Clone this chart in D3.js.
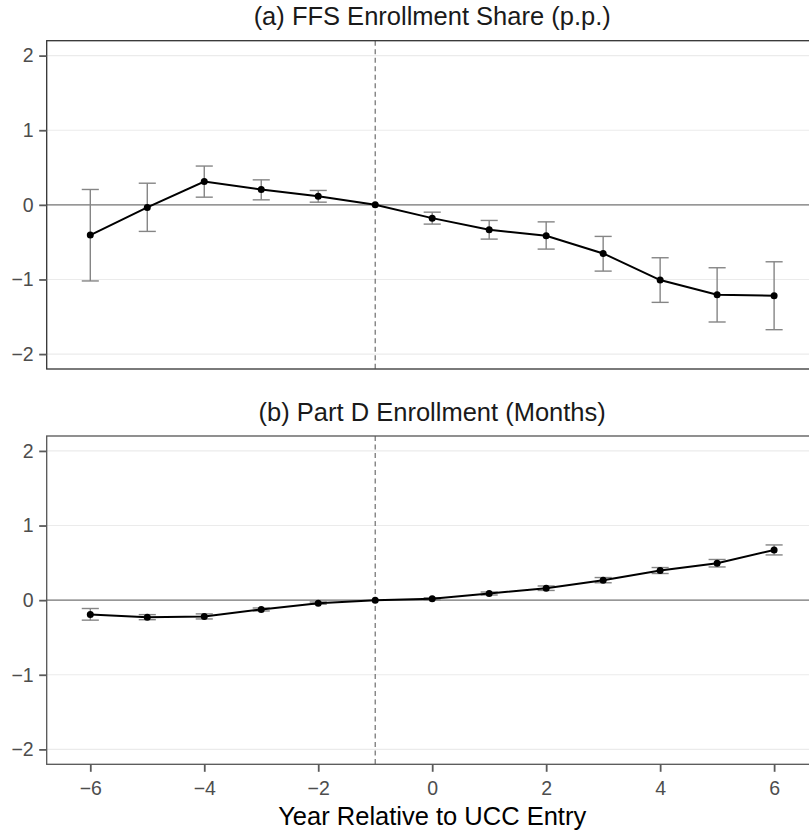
<!DOCTYPE html>
<html>
<head>
<meta charset="utf-8">
<script src="https://cdn.jsdelivr.net/npm/d3@7"></script>
<style>
  body { margin: 0; background: #fff; }
  svg { display: block; font-family: "Liberation Sans", Arial, sans-serif; }
</style>
</head>
<body>
<div id="chart"></div>
<script>
// event-study estimates
const years = [-6, -5, -4, -3, -2, -1, 0, 1, 2, 3, 4, 5, 6];

const ffsEst   = [-0.405, -0.035, 0.313, 0.206, 0.116, 0, -0.178, -0.335, -0.415, -0.651, -1.008, -1.205, -1.218];
const ffsLow   = [-1.02, -0.356, 0.103, 0.067, 0.036, 0, -0.258, -0.459, -0.593, -0.888, -1.307, -1.570, -1.673];
const ffsHigh  = [0.206, 0.29, 0.52, 0.335, 0.193, 0, -0.098, -0.209, -0.228, -0.423, -0.709, -0.843, -0.763];

const partdEst  = [-0.192, -0.228, -0.218, -0.125, -0.040, 0, 0.018, 0.089, 0.160, 0.268, 0.397, 0.495, 0.673];
const partdLow  = [-0.268, -0.262, -0.252, -0.145, -0.055, 0, 0.003, 0.069, 0.130, 0.233, 0.357, 0.445, 0.606];
const partdHigh = [-0.112, -0.194, -0.184, -0.105, -0.025, 0, 0.033, 0.109, 0.190, 0.303, 0.437, 0.545, 0.740];

const yTicks = [-2, -1, 0, 1, 2];
const xTicks = [-6, -4, -2, 0, 2, 4, 6];
const eventLine = -1;

const W = 809, H = 832;
const svg = d3.select("#chart").append("svg")
  .attr("width", W).attr("height", H);

// shared x scale (panel runs a bit past the right edge of the picture)
const x = d3.scaleLinear().domain([-6.765, 6.765]).range([46.7, 817.7]);

const fmt = d => d < 0 ? "\u2212" + Math.abs(d) : String(d);

function styleAxis(a) {
  a.select(".domain").remove();
  a.selectAll(".tick line").attr("stroke", "#5a5a5a").attr("stroke-width", 1.8);
  a.selectAll(".tick text").attr("fill", "#4d4d4d").style("font-size", "19.5px")
    .style("font-family", "Liberation Sans, Arial, sans-serif");
}

function drawPanel(title, est, low, high, top, bottom, titleY, borderColor, showX) {
  const y = d3.scaleLinear().domain([-2.2, 2.2]).range([bottom, top]);
  const g = svg.append("g");
  const pts = years.map((yr, i) => ({ yr, est: est[i], low: low[i], high: high[i] }));

  // gridlines
  g.selectAll("line.grid").data(yTicks).enter().append("line")
    .attr("x1", x.range()[0]).attr("x2", x.range()[1])
    .attr("y1", d => y(d)).attr("y2", d => y(d))
    .attr("stroke", "#ebebeb").attr("stroke-width", 1.1);

  // zero line & event line
  g.append("line")
    .attr("x1", x.range()[0]).attr("x2", x.range()[1])
    .attr("y1", y(0)).attr("y2", y(0))
    .attr("stroke", "#7a7a7a").attr("stroke-width", 1.2);
  g.append("line")
    .attr("x1", x(eventLine)).attr("x2", x(eventLine))
    .attr("y1", top).attr("y2", bottom)
    .attr("stroke", "#6e6e6e").attr("stroke-width", 1.2)
    .attr("stroke-dasharray", "5,3.5");

  // error bars
  const eb = g.selectAll("g.eb").data(pts.filter(d => d.high !== d.low)).enter().append("g")
    .attr("stroke", "#858585").attr("stroke-width", 1.4);
  eb.append("line")
    .attr("x1", d => x(d.yr)).attr("x2", d => x(d.yr))
    .attr("y1", d => y(d.low)).attr("y2", d => y(d.high));
  [d => d.low, d => d.high].forEach(acc => {
    eb.append("line")
      .attr("x1", d => x(d.yr - 0.15)).attr("x2", d => x(d.yr + 0.15))
      .attr("y1", d => y(acc(d))).attr("y2", d => y(acc(d)));
  });

  // line + points
  g.append("path").datum(pts)
    .attr("fill", "none").attr("stroke", "#000").attr("stroke-width", 2)
    .attr("d", d3.line().x(d => x(d.yr)).y(d => y(d.est)));
  g.selectAll("circle").data(pts).enter().append("circle")
    .attr("cx", d => x(d.yr)).attr("cy", d => y(d.est)).attr("r", 3.5)
    .attr("fill", "#000");

  // panel border
  g.append("rect")
    .attr("x", x.range()[0]).attr("y", top)
    .attr("width", x.range()[1] - x.range()[0]).attr("height", bottom - top)
    .attr("fill", "none").attr("stroke", borderColor).attr("stroke-width", 1.3);

  // y axis
  const ya = g.append("g").attr("transform", `translate(${x.range()[0]},0)`)
    .call(d3.axisLeft(y).tickValues(yTicks).tickFormat(fmt).tickSize(7.5).tickPadding(5.5));
  styleAxis(ya);

  if (showX) {
    const xa = g.append("g").attr("transform", `translate(0,${bottom})`)
      .call(d3.axisBottom(x).tickValues(xTicks).tickFormat(fmt).tickSize(7.5).tickPadding(9));
    styleAxis(xa);
  }

  // title
  svg.append("text")
    .attr("x", (x.range()[0] + x.range()[1]) / 2).attr("y", titleY)
    .attr("text-anchor", "middle")
    .style("font-size", "25.5px").attr("fill", "#1a1a1a")
    .text(title);
}

drawPanel("(a) FFS Enrollment Share (p.p.)", ffsEst, ffsLow, ffsHigh, 40.7, 369, 25, "#333", false);
drawPanel("(b) Part D Enrollment (Months)", partdEst, partdLow, partdHigh, 436, 764.3, 420.5, "#555", true);

// x axis title
svg.append("text")
  .attr("x", (x.range()[0] + x.range()[1]) / 2).attr("y", 825)
  .attr("text-anchor", "middle")
  .style("font-size", "25.5px").attr("fill", "#000")
  .text("Year Relative to UCC Entry");
</script>
</body>
</html>
